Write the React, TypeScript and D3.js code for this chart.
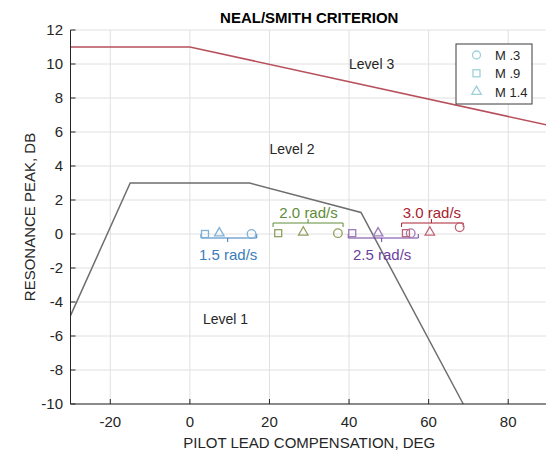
import React from "react";
import * as d3 from "d3";

const xTicks = [-20, 0, 20, 40, 60, 80];
const yTicks = [12, 10, 8, 6, 4, 2, 0, -2, -4, -6, -8, -10];

// Boundary lines
const level3X = [-30, 0, 90];
const level3Y = [11, 11, 6.4];
const level1X = [-30, -15, 15, 43, 68.7];
const level1Y = [-4.8, 3, 3, 1.27, -10];

// Groups (rad/s)
const groupNames = ["1.5 rad/s", "2.0 rad/s", "2.5 rad/s", "3.0 rad/s"];
// per group: [M .3 circle, M .9 square, M 1.4 triangle]
const circleX = [15.5, 37.2, 55.5, 67.8];
const circleY = [0, 0.05, 0.05, 0.4];
const squareX = [3.8, 22.2, 40.8, 54.3];
const squareY = [0, 0.05, 0.05, 0.05];
const triX = [7.4, 28.5, 47.3, 60.3];
const triY = [0.05, 0.1, 0.05, 0.1];
// bracket extents per group
const bracketStart = [2.8, 20.9, 39.8, 53.2];
const bracketEnd = [16.8, 38.5, 57.4, 68.7];
const bracketMid = [9.5, 29.7, 48.2, 60.7];
const bracketAbove = [false, true, false, true];

const markerColors = ["#7fb2d9", "#8f9f5f", "#9c7cba", "#bf6474"];
const textColors = ["#3b7cba", "#5e8b38", "#6e3f9e", "#a82230"];

const legendLabels = ["M .3", "M .9", "M 1.4"];
const legendColor = "#9dd0db";

const levelLabels = ["Level 3", "Level 2", "Level 1"];
const levelX = [40, 20, 3.3];
const levelY = [10, 5, -5];

const FONT = "'Liberation Sans', Arial, Helvetica, sans-serif";

export default function App() {
  const W = 546;
  const H = 451;
  const left = 70.5;
  const right = 548;
  const top = 30;
  const bottom = 404;
  const x = d3.scaleLinear().domain([-30, 90]).range([left, right]);
  const y = d3.scaleLinear().domain([-10, 12]).range([bottom, top]);

  const line = d3
    .line<[number, number]>()
    .x((d) => x(d[0]))
    .y((d) => y(d[1]));

  const l3 = level3X.map((v, i) => [v, level3Y[i]] as [number, number]);
  const l1 = level1X.map((v, i) => [v, level1Y[i]] as [number, number]);

  const gridX = d3.range(-20, 91, 20);
  const gridY = yTicks;

  const tri = (cx: number, cy: number, r: number) =>
    `M${cx},${cy - r}L${cx + r * 0.95},${cy + r * 0.65}L${cx - r * 0.95},${cy + r * 0.65}Z`;

  return (
    <svg
      width={W}
      height={H}
      style={{ position: "absolute", left: 0, top: 0, background: "#fff" }}
      fontFamily={FONT}
    >
      <rect x={0} y={0} width={W} height={H} fill="#fff" />
      {/* grid */}
      {gridX.map((v) => (
        <line key={"gx" + v} x1={x(v)} x2={x(v)} y1={top} y2={bottom} stroke="#e0e0e0" strokeWidth={1} />
      ))}
      {gridY.map((v) => (
        <line key={"gy" + v} x1={left} x2={right} y1={y(v)} y2={y(v)} stroke="#e0e0e0" strokeWidth={1} />
      ))}

      {/* boundary lines */}
      <path d={line(l3) || ""} fill="none" stroke="#b8505c" strokeWidth={1.6} />
      <path d={line(l1) || ""} fill="none" stroke="#6e6e6e" strokeWidth={1.5} />

      {/* level labels */}
      {levelLabels.map((t, i) => (
        <text key={t} x={x(levelX[i])} y={y(levelY[i]) + 5} fontSize={14} fill="#262626">
          {t}
        </text>
      ))}

      {/* brackets and group labels */}
      {groupNames.map((g, i) => {
        const above = bracketAbove[i];
        const by = above ? y(0) - 11 : y(0) + 4;
        const dir = above ? 1 : -1; // end ticks toward points
        const c = textColors[i];
        return (
          <g key={g}>
            <line x1={x(bracketStart[i])} x2={x(bracketEnd[i])} y1={by} y2={by} stroke={c} strokeWidth={1} />
            <line x1={x(bracketStart[i])} x2={x(bracketStart[i])} y1={by} y2={by + dir * 4} stroke={c} strokeWidth={1} />
            <line x1={x(bracketEnd[i])} x2={x(bracketEnd[i])} y1={by} y2={by + dir * 4} stroke={c} strokeWidth={1} />
            <line x1={x(bracketMid[i])} x2={x(bracketMid[i])} y1={by} y2={by - dir * 4} stroke={c} strokeWidth={1} />
            <text
              x={x(bracketMid[i]) + 0.5}
              y={above ? by - 5 : by + 22}
              textAnchor="middle"
              fontSize={15}
              fill={c}
            >
              {g}
            </text>
          </g>
        );
      })}

      {/* markers */}
      {groupNames.map((g, i) => (
        <g key={"m" + g} fill="none" stroke={markerColors[i]} strokeWidth={1.3}>
          <rect x={x(squareX[i]) - 3.5} y={y(squareY[i]) - 3.5} width={7} height={7} />
          <path d={tri(x(triX[i]), y(triY[i]) - 0.5, 5)} />
          <circle cx={x(circleX[i])} cy={y(circleY[i])} r={4.3} />
        </g>
      ))}

      {/* axes */}
      <line x1={left} x2={left} y1={top} y2={bottom} stroke="#262626" strokeWidth={1} />
      <line x1={left} x2={right} y1={bottom} y2={bottom} stroke="#262626" strokeWidth={1} />
      {xTicks.map((v) => (
        <g key={"xt" + v}>
          <line x1={x(v)} x2={x(v)} y1={bottom} y2={bottom - 5} stroke="#262626" />
          <text x={x(v)} y={427} textAnchor="middle" fontSize={15} fill="#262626">
            {v}
          </text>
        </g>
      ))}
      {yTicks.map((v) => (
        <g key={"yt" + v}>
          <line x1={left} x2={left + 5} y1={y(v)} y2={y(v)} stroke="#262626" />
          <text x={63} y={y(v) + 5} textAnchor="end" fontSize={15} fill="#262626">
            {v}
          </text>
        </g>
      ))}

      {/* axis labels */}
      <text x={(left + right) / 2} y={448} textAnchor="middle" fontSize={15} fill="#262626">
        PILOT LEAD COMPENSATION, DEG
      </text>
      <text
        transform={`translate(35,${(top + bottom) / 2}) rotate(-90)`}
        textAnchor="middle"
        fontSize={15}
        fill="#262626"
      >
        RESONANCE PEAK, DB
      </text>
      <text x={(left + right) / 2} y={23} textAnchor="middle" fontSize={15} fontWeight="bold" fill="#000">
        NEAL/SMITH CRITERION
      </text>

      {/* legend */}
      <rect x={456} y={44} width={76} height={60} fill="#fff" stroke="#3a3a3a" strokeWidth={1} />
      {legendLabels.map((t, i) => {
        const ly = 55 + i * 18.3;
        return (
          <g key={t}>
            {i === 0 && <circle cx={476.5} cy={ly} r={4} fill="none" stroke={legendColor} strokeWidth={1.3} />}
            {i === 1 && (
              <rect x={473} y={ly - 3.5} width={7} height={7} fill="none" stroke={legendColor} strokeWidth={1.3} />
            )}
            {i === 2 && <path d={tri(476.5, ly - 0.5, 5)} fill="none" stroke={legendColor} strokeWidth={1.3} />}
            <text x={495} y={ly + 5} fontSize={13} fill="#262626">
              {t}
            </text>
          </g>
        );
      })}
    </svg>
  );
}
